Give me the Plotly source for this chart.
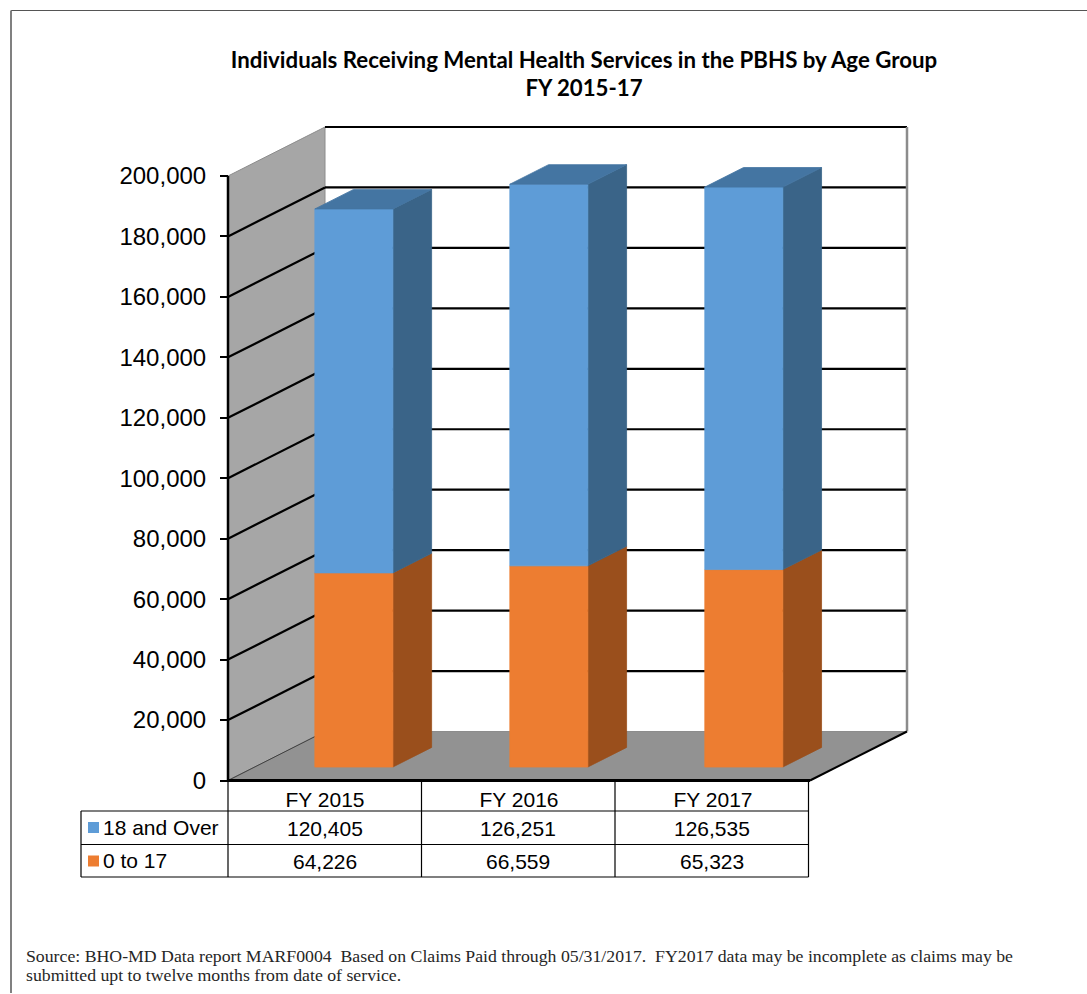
import plotly.graph_objects as go

# ---- data ----
categories = ["FY 2015", "FY 2016", "FY 2017"]
over18 = [120405, 126251, 126535]
under18 = [64226, 66559, 65323]
series_names = ["18 and Over", "0 to 17"]
y_ticks = list(range(0, 200001, 20000))

# ---- page geometry (pixels) ----
W, H = 1087, 994
X0, X1 = 228, 810        # front floor edge
Y0, YT = 780.5, 176      # value 0 / value 200000 at the front plane
YMAX = 200000
PX_X = (X1 - X0) / 3
PX_Y = (Y0 - YT) / YMAX
DEPTH_X = 97 / PX_X      # full chart depth in axis units
DEPTH_Y = 49 / PX_Y


def project(x, v, d):
    """Oblique projection: category position, value, depth 0..1 -> axis coords."""
    return x + d * DEPTH_X, v + d * DEPTH_Y


def poly(points, color, line=None, width=0.8):
    xs, ys = zip(*[project(*p) for p in points])
    return go.Scatter(x=list(xs) + [xs[0]], y=list(ys) + [ys[0]], mode="lines", fill="toself",
                      fillcolor=color, line=dict(color=line or color, width=width),
                      hoverinfo="skip", showlegend=False)


def seg(p, q, color="#000000", width=2.2):
    a, b = project(*p), project(*q)
    return go.Scatter(x=[a[0], b[0]], y=[a[1], b[1]], mode="lines", line=dict(color=color, width=width),
                      hoverinfo="skip", showlegend=False)


def px(x):
    return x / W


def py(y):
    return 1 - y / H


fig = go.Figure()

# walls and floor
fig.add_trace(poly([(0, 0, 1), (3, 0, 1), (3, YMAX, 1), (0, YMAX, 1)], "#FFFFFF"))
fig.add_trace(poly([(0, 0, 0), (0, 0, 1), (0, YMAX, 1), (0, YMAX, 0)], "#A6A6A6", "#8C8C8C", 1))
fig.add_trace(poly([(0, 0, 0), (3, 0, 0), (3, 0, 1), (0, 0, 1)], "#929292", "#8C8C8C", 1))

# gridlines
for v in y_ticks:
    if v == 0:
        fig.add_trace(seg((0, v, 0), (0, v, 1), "#404040", 1))
        continue
    if v < YMAX:
        fig.add_trace(seg((0, v, 0), (0, v, 1)))
    fig.add_trace(seg((0, v, 1), (3, v, 1)))
fig.add_trace(seg((3, 0, 1), (3, YMAX, 1), "#8C8C8C", 2.5))
fig.add_trace(seg((3, 0, 0), (3, 0, 1), "#000000", 2))

# axis lines of the front plane
fig.add_trace(seg((0, 0, 0), (0, YMAX, 0), "#000000", 2.5))
fig.add_trace(seg((0, 0, 0), (3, 0, 0), "#000000", 3))

# bars
D0, D1 = 0.2755, 0.675
BAR = 78 / PX_X
palette = [("#ED7D31", "#9A4F1C", "#BC6226"), ("#5E9CD7", "#3A6488", "#4475A2")]
for i in range(len(categories)):
    left = i * 1.005 + 0.31
    right = left + BAR
    bottom = 0
    for values, (front, side, top) in zip([under18, over18], palette):
        upper = bottom + values[i]
        fig.add_trace(poly([(right, bottom, D0), (right, bottom, D1), (right, upper, D1), (right, upper, D0)], side))
        fig.add_trace(poly([(left, bottom, D0), (right, bottom, D0), (right, upper, D0), (left, upper, D0)], front))
        bottom = upper
    fig.add_trace(poly([(left, bottom, D0), (right, bottom, D0), (right, bottom, D1), (left, bottom, D1)], palette[1][2]))

# data table
T_LEFT, T_TOP, T_R1, T_R2 = 81, 811, 844.5, 877
COLS = [228, 421.5, 615, 808.5]
BLK = dict(color="#000000", width=1.2)
shapes = []


def hline(x0, x1, y):
    shapes.append(dict(type="line", xref="paper", yref="paper", x0=px(x0), x1=px(x1), y0=py(y), y1=py(y), line=BLK))


def vline(x, y0, y1, line=BLK):
    shapes.append(dict(type="line", xref="paper", yref="paper", x0=px(x), x1=px(x), y0=py(y0), y1=py(y1), line=line))


for y in (T_TOP, T_R1, T_R2):
    hline(T_LEFT, COLS[-1], y)
vline(T_LEFT, T_TOP, T_R2)
for c in COLS:
    vline(c, Y0, T_R2)

# outer frame of the page
shapes.append(dict(type="line", xref="paper", yref="paper", x0=px(11), x1=px(W), y0=py(10.5), y1=py(10.5),
                   line=dict(color="#555555", width=1.2)))
vline(11, 10.5, H - 1, dict(color="#808080", width=2))

# legend keys
for (yc, color) in zip((827.5, 861), ("#5E9CD7", "#ED7D31")):
    shapes.append(dict(type="rect", xref="paper", yref="paper", x0=px(88), x1=px(99),
                       y0=py(yc + 5.5), y1=py(yc - 5.5), fillcolor=color, line=dict(width=0)))

TXT = dict(family="Liberation Sans", size=21, color="#000000")
ann = []
for row, (yc, values) in enumerate(zip((828, 861), (over18, under18))):
    ann.append(dict(xref="paper", yref="paper", x=px(101), y=py(yc - 1), text=series_names[row], showarrow=False,
                    xanchor="left", yanchor="middle", font=TXT))
    for j, v in enumerate(values):
        ann.append(dict(xref="paper", yref="paper", x=px((COLS[j] + COLS[j + 1]) / 2), y=py(yc), text=f"{v:,}",
                        showarrow=False, xanchor="center", yanchor="middle", font=TXT))
NOTE = dict(family="Liberation Serif", size=17.75, color="#262626")
for yc, line_text in zip((956, 975), (
        "Source: BHO-MD Data report MARF0004  Based on Claims Paid through 05/31/2017.  FY2017 data may be "
        "incomplete as claims may be",
        "submitted upt to twelve months from date of service.")):
    ann.append(dict(xref="paper", yref="paper", x=px(24), y=py(yc), xanchor="left", yanchor="middle",
                    showarrow=False, text=line_text, font=NOTE))

X_RANGE = [-X0 / PX_X, (W - X0) / PX_X]
Y_RANGE = [(Y0 - H) / PX_Y, Y0 / PX_Y]

fig.update_layout(
    width=W, height=H, margin=dict(l=0, r=0, t=0, b=0), autosize=False,
    paper_bgcolor="#FFFFFF", plot_bgcolor="rgba(0,0,0,0)", showlegend=False,
    title=dict(text="<b>Individuals Receiving Mental Health Services in the PBHS by Age Group<br>FY 2015-17</b>",
               x=584 / W, xanchor="center", y=py(67.5), yanchor="middle",
               font=dict(family="Lato", size=22.25, color="#000000")),
    xaxis=dict(domain=[0, 1], range=X_RANGE, anchor="free", position=py(Y0), tickmode="array",
               tickvals=[0.5, 1.5, 2.5], ticktext=categories, ticks="", showgrid=False, zeroline=False,
               showline=False, tickfont=TXT, ticklabelstandoff=4),
    yaxis=dict(domain=[0, 1], range=Y_RANGE, anchor="free", position=px(X0), tickmode="array",
               tickvals=y_ticks, tickformat=",d", ticks="outside", ticklen=8, tickwidth=2, tickcolor="#000000",
               showgrid=False, zeroline=False, showline=False,
               tickfont=dict(family="Liberation Sans", size=24, color="#000000"), ticklabelstandoff=9),
    shapes=shapes, annotations=ann,
)

fig.write_html("out.html", config={"displayModeBar": False}, post_script="document.body.style.margin='0';")
